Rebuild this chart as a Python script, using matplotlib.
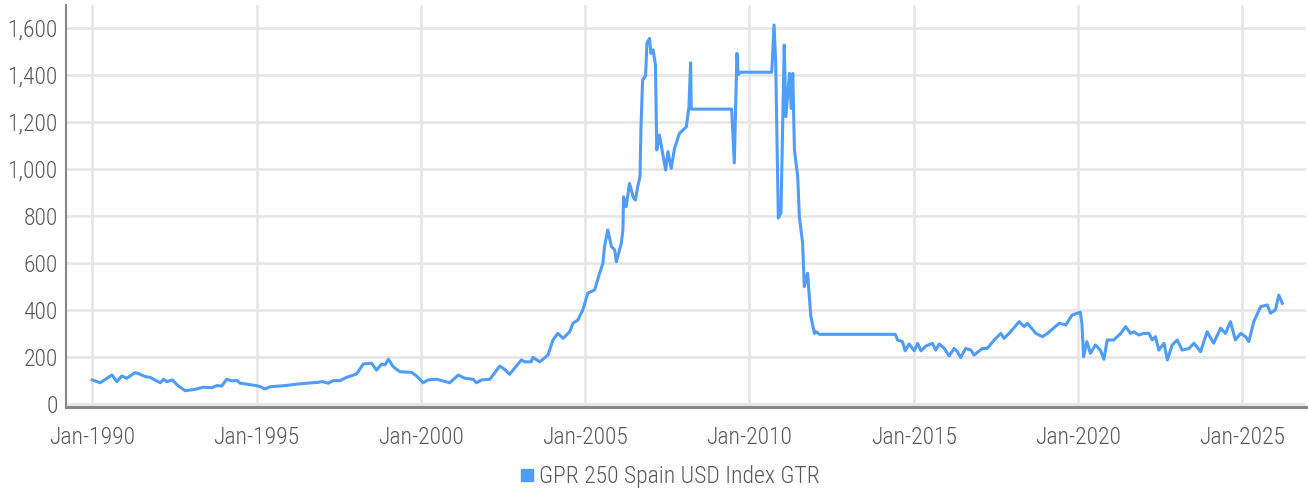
import matplotlib
matplotlib.use("Agg")
import matplotlib.pyplot as plt
from matplotlib import font_manager
from matplotlib.lines import Line2D
from matplotlib.ticker import FuncFormatter

# ---- data (decimal years, index values) ----
dates = [
    1990.00, 1990.24, 1990.60, 1990.75, 1990.90, 1991.05, 1991.30, 1991.41, 1991.61, 1991.76,
    1992.07, 1992.17, 1992.27, 1992.44, 1992.62, 1992.83, 1993.13, 1993.38, 1993.64, 1993.79,
    1993.94, 1994.09, 1994.25, 1994.40, 1994.50, 1994.85, 1995.06, 1995.26, 1995.41, 1995.87,
    1996.27, 1996.88, 1997.00, 1997.18, 1997.33, 1997.54, 1997.74, 1998.04, 1998.25, 1998.50,
    1998.65, 1998.81, 1998.91, 1999.01, 1999.16, 1999.36, 1999.72, 1999.87, 2000.07, 2000.22,
    2000.48, 2000.88, 2001.14, 2001.34, 2001.59, 2001.69, 2001.85, 2002.10, 2002.40, 2002.55,
    2002.70, 2003.06, 2003.16, 2003.36, 2003.41, 2003.62, 2003.87, 2004.02, 2004.17, 2004.33,
    2004.53, 2004.63, 2004.78, 2004.93, 2005.08, 2005.29, 2005.44, 2005.54, 2005.59, 2005.69,
    2005.80, 2005.90, 2005.95, 2006.10, 2006.15, 2006.17, 2006.25, 2006.35, 2006.46, 2006.53,
    2006.60, 2006.67, 2006.70, 2006.75, 2006.84, 2006.88, 2006.96, 2007.00, 2007.07, 2007.14,
    2007.18, 2007.26, 2007.36, 2007.45, 2007.52, 2007.62, 2007.72, 2007.87, 2007.98, 2008.08,
    2008.16, 2008.21, 2008.23, 2008.25, 2009.46, 2009.54, 2009.62, 2009.66, 2009.73, 2010.68,
    2010.75, 2010.80, 2010.88, 2010.96, 2011.06, 2011.11, 2011.22, 2011.27, 2011.32, 2011.37,
    2011.47, 2011.52, 2011.62, 2011.67, 2011.77, 2011.87, 2011.98, 2012.03, 2012.13, 2014.44,
    2014.51, 2014.66, 2014.74, 2014.86, 2015.02, 2015.12, 2015.22, 2015.37, 2015.57, 2015.67,
    2015.78, 2015.93, 2016.08, 2016.23, 2016.33, 2016.43, 2016.58, 2016.74, 2016.84, 2017.09,
    2017.24, 2017.45, 2017.65, 2017.75, 2017.95, 2018.21, 2018.36, 2018.46, 2018.72, 2018.92,
    2019.07, 2019.43, 2019.63, 2019.82, 2020.07, 2020.12, 2020.17, 2020.27, 2020.38, 2020.53,
    2020.68, 2020.79, 2020.89, 2021.09, 2021.30, 2021.45, 2021.60, 2021.70, 2021.85, 2022.00,
    2022.16, 2022.26, 2022.36, 2022.46, 2022.62, 2022.72, 2022.87, 2023.02, 2023.17, 2023.38,
    2023.53, 2023.73, 2023.93, 2024.13, 2024.34, 2024.49, 2024.64, 2024.79, 2024.95, 2025.10,
    2025.20, 2025.35, 2025.56, 2025.76, 2025.86, 2026.01, 2026.11, 2026.22,
]
values = [
    101, 89, 122, 94, 118, 108, 132, 128, 115, 112,
    89, 104, 94, 101, 75, 55, 61, 70, 68, 77,
    75, 104, 97, 99, 87, 80, 75, 63, 72, 77,
    84, 91, 94, 87, 98, 98, 112, 126, 169, 172,
    143, 169, 165, 189, 157, 136, 133, 118, 89, 101,
    104, 89, 122, 108, 104, 89, 101, 104, 160, 146,
    125, 186, 178, 178, 197, 178, 207, 271, 299, 278,
    306, 342, 356, 399, 470, 484, 555, 597, 668, 739,
    668, 654, 604, 682, 739, 880, 838, 937, 880, 866,
    923, 966, 1178, 1377, 1395, 1533, 1554, 1490, 1505, 1441,
    1079, 1143, 1065, 994, 1072, 1001, 1086, 1150, 1164, 1178,
    1263, 1450, 1253, 1253, 1253, 1024, 1490, 1400, 1410, 1410,
    1611, 1450, 790, 811, 1526, 1221, 1405, 1256, 1405, 1079,
    966, 795, 682, 498, 555, 370, 299, 306, 295, 295,
    271, 264, 225, 254, 225, 257, 225, 245, 257, 228,
    254, 235, 203, 235, 221, 196, 235, 228, 207, 235,
    235, 271, 299, 278, 306, 349, 328, 342, 299, 285,
    299, 342, 335, 377, 389, 342, 200, 264, 214, 250,
    228, 189, 271, 271, 299, 328, 299, 306, 292, 299,
    299, 271, 285, 228, 257, 186, 250, 271, 228, 235,
    257, 221, 306, 257, 321, 299, 349, 271, 299, 285,
    264, 349, 413, 420, 385, 399, 462, 427,
]

tick_years = [1990, 1995, 2000, 2005, 2010, 2015, 2020, 2025]
tick_labels = ["Jan-1990", "Jan-1995", "Jan-2000", "Jan-2005",
               "Jan-2010", "Jan-2015", "Jan-2020", "Jan-2025"]
y_ticks = [0, 200, 400, 600, 800, 1000, 1200, 1400, 1600]
series_name = "GPR 250 Spain USD Index GTR"

# ---- font choice ----
available = {f.name for f in font_manager.fontManager.ttflist}
family = "DejaVu Sans"
for cand in ["Roboto Condensed", "Barlow Condensed", "Liberation Sans Narrow",
             "Open Sans Condensed", "Noto Sans Display", "Roboto"]:
    if cand in available:
        family = cand
        break
plt.rcParams["font.family"] = [family, "DejaVu Sans"]

TEXT = "#595959"
LINE = "#4f9cf9"
GRID = "#e6e6e6"
SPINE = "#888888"

fig = plt.figure(figsize=(13.08, 4.91), dpi=100)
ax = fig.add_axes([66 / 1308, 1 - 406.5 / 491, (1306 - 66) / 1308, (406.5 - 5) / 491])

ax.plot(dates, values, color=LINE, lw=2.2, solid_joinstyle="round", zorder=3)

ax.set_xlim(1989.2, 2026.94)
ax.set_ylim(-12, 1696)
ax.set_xticks(tick_years)
ax.set_xticklabels(tick_labels)
ax.set_yticks(y_ticks)
ax.yaxis.set_major_formatter(FuncFormatter(lambda v, p: f"{int(v):,}"))

ax.grid(True, color=GRID, lw=1.9, zorder=0)
ax.set_axisbelow(True)
for s in ["top", "right"]:
    ax.spines[s].set_visible(False)
ax.spines["left"].set_color(SPINE)
ax.spines["left"].set_linewidth(1.5)
ax.spines["bottom"].set_color(SPINE)
ax.spines["bottom"].set_linewidth(2.2)

ax.tick_params(axis="both", length=0, labelsize=17, colors=TEXT, labelcolor=TEXT)
ax.tick_params(axis="x", pad=14)
ax.tick_params(axis="y", pad=6)
for lab in ax.get_xticklabels() + ax.get_yticklabels():
    lab.set_fontweight("light")

handle = Line2D([], [], color=LINE, marker="s", linestyle="none", markersize=8)
leg = fig.legend([handle], [series_name], loc="center", bbox_to_anchor=(0.511, 1 - 477 / 491),
                 frameon=False, fontsize=17, handletextpad=0.1, handlelength=0.8)
for t in leg.get_texts():
    t.set_color(TEXT)
    t.set_fontweight("light")

fig.savefig("out.png", dpi=100)
